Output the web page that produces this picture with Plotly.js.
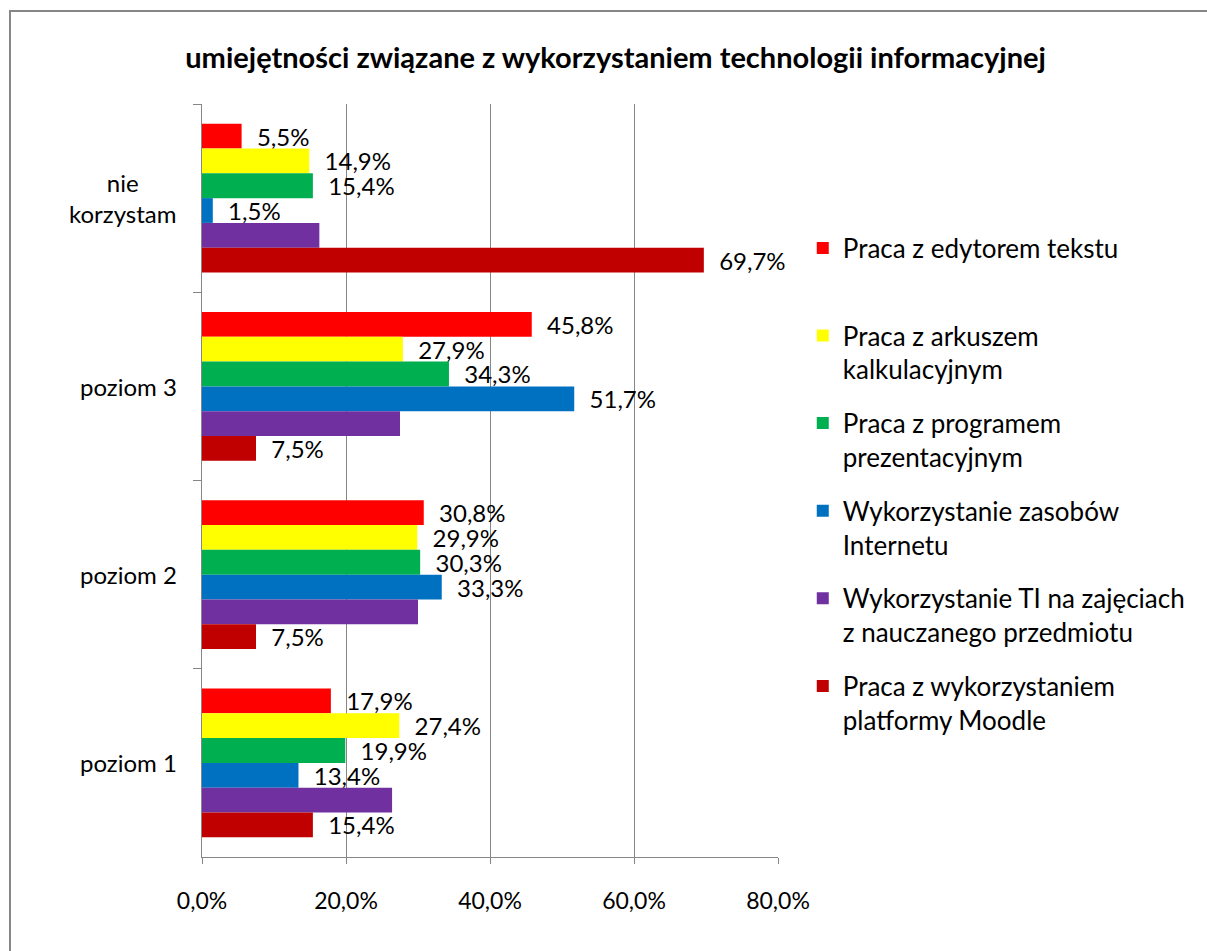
<!DOCTYPE html>
<html>
<head>
<meta charset="utf-8">
<script src="https://cdn.plot.ly/plotly-3.0.1.min.js"></script>
<style>
  body { margin: 0; background: #fff; }
  #chart { width: 1207px; height: 951px; }
  #frame { position: absolute; left: 9px; top: 10px; width: 1300px; height: 1000px;
           border-left: 2px solid #868686; border-top: 2px solid #868686; pointer-events: none; }
</style>
</head>
<body>
<div id="chart"></div>
<div id="frame"></div>
<script>
// categories top to bottom
let categories = ['nie korzystam', 'poziom 3', 'poziom 2', 'poziom 1'];
let catLabels = ['nie<br>korzystam', 'poziom 3', 'poziom 2', 'poziom 1'];

let names = [
  'Praca z edytorem tekstu<br> ',
  'Praca z arkuszem<br>kalkulacyjnym',
  'Praca z programem<br>prezentacyjnym',
  'Wykorzystanie zasobów<br>Internetu',
  'Wykorzystanie TI na zajęciach<br>z nauczanego przedmiotu',
  'Praca z wykorzystaniem<br>platformy Moodle'
];

let edytor = [5.5, 45.8, 30.8, 17.9];
let arkusz = [14.9, 27.9, 29.9, 27.4];
let prezentacja = [15.4, 34.3, 30.3, 19.9];
let internet = [1.5, 51.7, 33.3, 13.4];
let zajecia = [16.3, 27.5, 30.0, 26.4];   // no labels in the picture, estimated
let moodle = [69.7, 7.5, 7.5, 15.4];

let series = [edytor, arkusz, prezentacja, internet, zajecia, moodle];
let colors = ['#FF0000', '#FFFF00', '#00B050', '#0070C0', '#7030A0', '#C00000'];
let showLabel = [true, true, true, true, false, true];

const font = 'Lato, "Open Sans", sans-serif';

var data = [];
series.forEach((vals, i) => {
  data.push({
    type: 'bar',
    orientation: 'h',
    x: vals,
    y: categories,
    name: names[i],
    legendgroup: 'g' + i,
    marker: { color: colors[i] },
    texttemplate: showLabel[i] ? '\u00a0\u00a0%{x:.1f}%' : '',
    textposition: showLabel[i] ? 'outside' : 'none',
    textfont: { family: font, size: 24, color: '#000' },
    constraintext: 'none',
    cliponaxis: false,
    hoverinfo: 'none'
  });
});

var annotations = categories.map((c, i) => ({
  x: 0, xref: 'paper', xanchor: 'right', xshift: -23,
  y: c, yref: 'y', yanchor: 'middle',
  text: catLabels[i], showarrow: false, align: 'center',
  font: { family: font, size: 24, color: '#000' }
}));

var layout = {
  width: 1207,
  height: 951,
  margin: { l: 202, r: 429, t: 104, b: 94 },
  paper_bgcolor: 'rgba(0,0,0,0)',
  plot_bgcolor: '#fff',
  separators: ', ',
  barmode: 'group',
  bargap: 0.21,
  bargroupgap: 0,
  font: { family: font, size: 23, color: '#000' },
  title: {
    text: '<b>umiejętności związane z wykorzystaniem technologii informacyjnej</b>',
    font: { family: font, size: 29, color: '#000' },
    x: 0.51, xref: 'container', xanchor: 'center',
    y: 0.939, yref: 'container', yanchor: 'middle'
  },
  xaxis: {
    range: [0, 80],
    dtick: 20,
    tick0: 0,
    tickformat: '.1f',
    ticksuffix: '%',
    showgrid: true,
    gridcolor: '#868686',
    gridwidth: 1,
    zeroline: false,
    showline: true,
    linecolor: '#868686',
    ticks: 'outside',
    ticklen: 6,
    tickcolor: '#868686',
    ticklabelstandoff: 17,
    tickfont: { family: font, size: 23, color: '#000' },
    fixedrange: true
  },
  yaxis: {
    type: 'category',
    categoryorder: 'array',
    categoryarray: categories,
    autorange: 'reversed',
    showticklabels: false,
    showgrid: false,
    zeroline: false,
    showline: true,
    linecolor: '#868686',
    ticks: 'outside',
    tickson: 'boundaries',
    ticklen: 8,
    tickcolor: '#868686',
    fixedrange: true
  },
  legend: {
    x: 1.043, xanchor: 'left',
    y: 0.84, yanchor: 'top',
    valign: 'top',
    tracegroupgap: 17,
    font: { family: font, size: 26, color: '#000' },
    bgcolor: 'rgba(0,0,0,0)'
  },
  annotations: annotations,
  showlegend: true
};

Plotly.newPlot('chart', data, layout, { displayModeBar: false, staticPlot: true });
</script>
</body>
</html>
